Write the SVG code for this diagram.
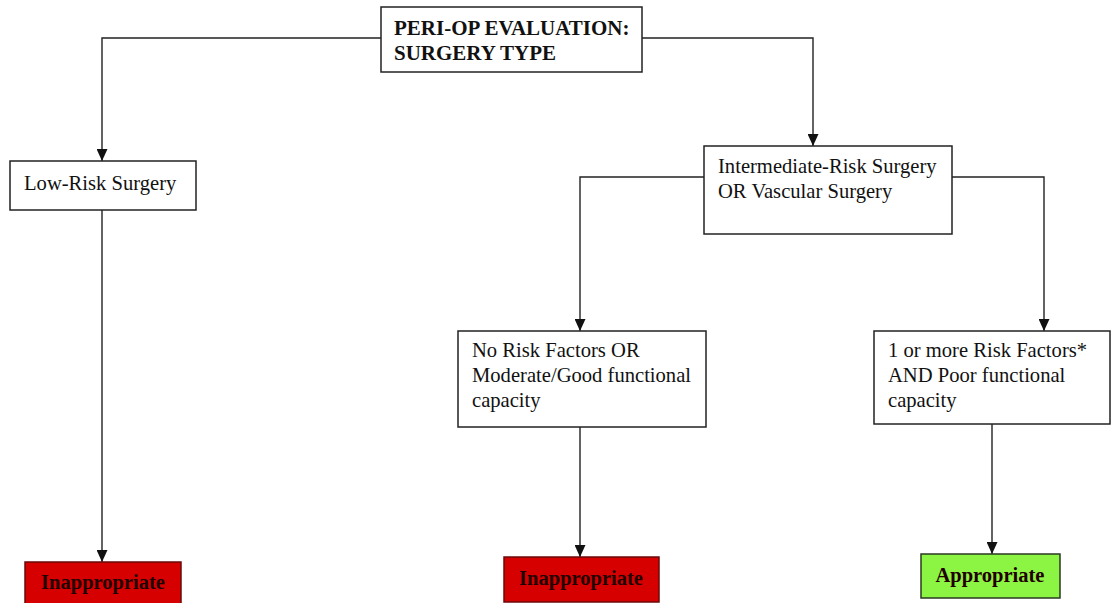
<svg xmlns="http://www.w3.org/2000/svg" width="1111" height="603" viewBox="0 0 1111 603">
<style>
.box{fill:#fff;stroke:#222;stroke-width:1.5}
.t{font-family:"Liberation Serif","Times New Roman",serif;font-size:20.6px;fill:#111}
.b{font-family:"Liberation Serif","Times New Roman",serif;font-size:21px;font-weight:bold;fill:#111}
.res{font-family:"Liberation Serif","Times New Roman",serif;font-size:20.5px;font-weight:bold;fill:#200;text-anchor:middle}
.red{fill:#d60000;stroke:#6a0a0a;stroke-width:1.5}
.green{fill:#8cf442;stroke:#2a3a20;stroke-width:1.5}
.c{fill:none;stroke:#222;stroke-width:1.4;marker-end:url(#ah)}
</style>
<defs>
<marker id="ah" viewBox="0 0 12 11" refX="12" refY="5.5" markerWidth="12" markerHeight="11" markerUnits="userSpaceOnUse" orient="auto">
<path d="M0,0 L12,5.5 L0,11 Z" fill="#111"/>
</marker>
</defs>
<rect width="1111" height="603" fill="#fff"/>
<g id="connectors">
<path class="c" d="M381,38 H102 V161"/>
<path class="c" d="M642,38 H813 V146"/>
<path class="c" d="M704,177 H580 V331"/>
<path class="c" d="M952,177 H1044 V331"/>
<path class="c" d="M102,210 V562"/>
<path class="c" d="M580,427 V557"/>
<path class="c" d="M992,424 V554"/>
</g>
<g id="n-top">
<rect class="box" x="381" y="7" width="261" height="65"/>
<text class="b" x="394" y="35">PERI-OP EVALUATION:</text>
<text class="b" x="394" y="60">SURGERY TYPE</text>
</g>
<g id="n-low">
<rect class="box" x="10" y="161" width="186" height="49"/>
<text class="t" x="24" y="190">Low-Risk Surgery</text>
</g>
<g id="n-inter">
<rect class="box" x="704" y="146" width="248" height="88"/>
<text class="t" x="718" y="173">Intermediate-Risk Surgery</text>
<text class="t" x="718" y="198">OR Vascular Surgery</text>
</g>
<g id="n-norisk">
<rect class="box" x="458" y="331" width="248" height="96"/>
<text class="t" x="472" y="357">No Risk Factors OR</text>
<text class="t" x="472" y="382">Moderate/Good functional</text>
<text class="t" x="472" y="407">capacity</text>
</g>
<g id="n-risk">
<rect class="box" x="874" y="331" width="236" height="93"/>
<text class="t" x="888" y="357">1 or more Risk Factors*</text>
<text class="t" x="888" y="382">AND Poor functional</text>
<text class="t" x="888" y="407">capacity</text>
</g>
<g id="n-inapp1">
<rect class="red" x="25" y="562" width="156" height="45"/>
<text class="res" x="103" y="589">Inappropriate</text>
</g>
<g id="n-inapp2">
<rect class="red" x="504" y="557" width="155" height="45"/>
<text class="res" x="581" y="585">Inappropriate</text>
</g>
<g id="n-app">
<rect class="green" x="921" y="554" width="139" height="44"/>
<text class="res" x="990" y="582">Appropriate</text>
</g>
</svg>
